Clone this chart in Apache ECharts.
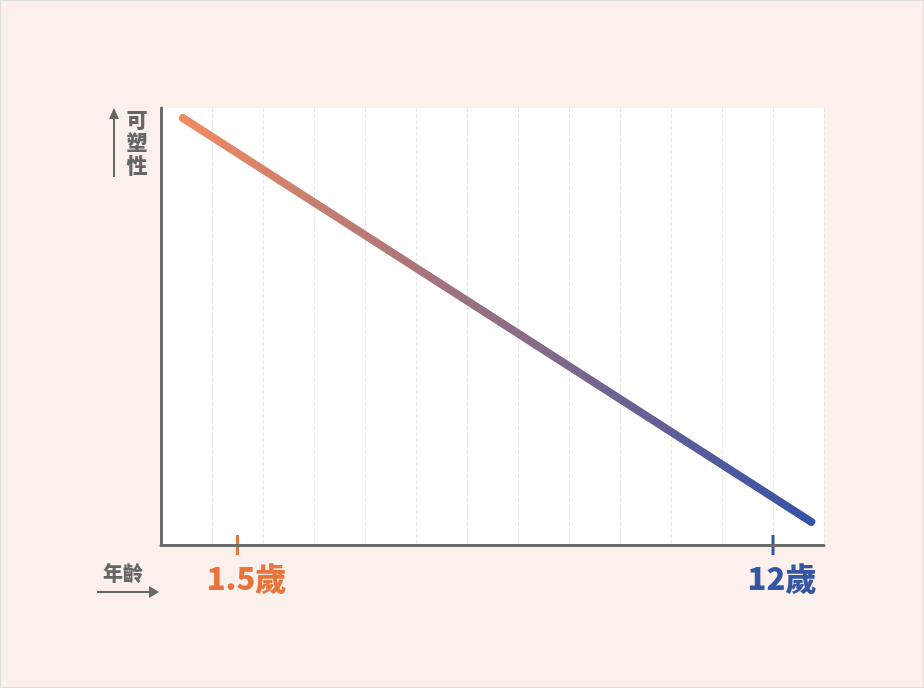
<!DOCTYPE html><html><head><meta charset="utf-8">
<script src="https://cdn.jsdelivr.net/npm/echarts@6/dist/echarts.min.js"></script>
<style>html,body{margin:0;background:#fbf0ec}#c{width:922px;height:686px;border:1px solid #ddd}</style></head><body><div id="c"></div>
<script>
const lineX=[0.43,12.75];
const lineY=[97.7,5.3];
const markX=[1.5,12];
const markLabels=['1.5歲','12歲'];
const markColors=['#e8743b','#3555a5'];
const yTitle='可\n塑\n性';
const xTitle='年齡';
const ch=echarts.init(document.getElementById('c'));
const F='"Noto Sans CJK TC","Noto Sans CJK SC",sans-serif';
ch.setOption({
 animation:false,
 grid:{left:160,right:99,top:107,bottom:142,show:true,backgroundColor:'#fff',borderWidth:0},
 xAxis:{type:'value',min:0,max:13,interval:1,axisLabel:{show:false},axisTick:{show:false},
  axisLine:{show:true,lineStyle:{color:'#6b6b6b',width:3}},splitLine:{show:true,lineStyle:{color:'#e6e6e6',type:'dashed'}}},
 yAxis:{type:'value',min:0,max:100,axisLabel:{show:false},axisTick:{show:false},
  axisLine:{show:true,lineStyle:{color:'#6b6b6b',width:3}},splitLine:{show:false}},
 series:[{type:'line',data:lineX.map((x,i)=>[x,lineY[i]]),symbol:'none',
  lineStyle:{width:8,cap:'round',color:new echarts.graphic.LinearGradient(0,0,1,0,[{offset:0,color:'#f08a60'},{offset:1,color:'#3451a8'}])}}]
});
const g=[];
markX.forEach((v,i)=>{
 const p=ch.convertToPixel({gridIndex:0},[v,0]);
 g.push({type:'line',shape:{x1:p[0],y1:p[1]-10,x2:p[0],y2:p[1]+10},style:{stroke:markColors[i],lineWidth:3}});
 g.push({type:'text',x:p[0]+9,y:p[1]+33,style:{text:markLabels[i],fill:markColors[i],font:'900 31px '+F,textAlign:'center',textVerticalAlign:'middle'}});
});
g.push({type:'text',x:122,y:572,style:{text:xTitle,fill:'#666',font:'900 20px '+F,textAlign:'center',textVerticalAlign:'middle'}});
g.push({type:'line',shape:{x1:96,y1:591,x2:150,y2:591},style:{stroke:'#666',lineWidth:2}});
g.push({type:'polygon',shape:{points:[[148,585],[158,591],[148,597]]},style:{fill:'#666'}});
g.push({type:'line',shape:{x1:113,y1:176,x2:113,y2:116},style:{stroke:'#666',lineWidth:2}});
g.push({type:'polygon',shape:{points:[[108,118],[113,107],[118,118]]},style:{fill:'#666'}});
g.push({type:'text',x:136,y:141,style:{text:yTitle,fill:'#666',font:'900 21px '+F,textAlign:'center',textVerticalAlign:'middle',lineHeight:23}});
ch.setOption({graphic:g});
</script></body></html>
